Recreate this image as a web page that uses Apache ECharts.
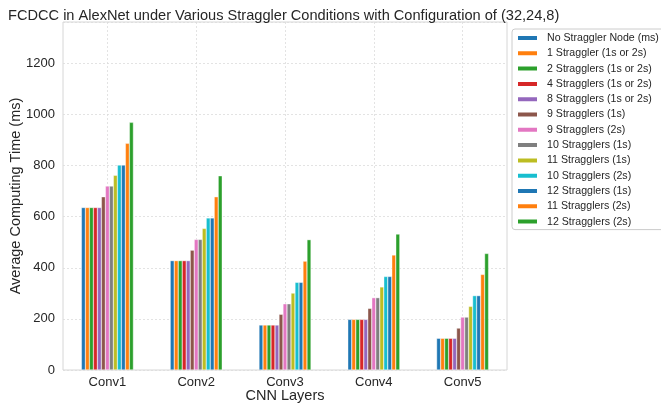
<!DOCTYPE html>
<html>
<head>
<meta charset="utf-8">
<script src="https://cdn.jsdelivr.net/npm/echarts@6/dist/echarts.min.js"></script>
<style>html,body{margin:0;padding:0;background:#fff}#c{width:661px;height:404px}</style>
</head>
<body>
<div id="c"></div>
<script>
const categories = ['Conv1', 'Conv2', 'Conv3', 'Conv4', 'Conv5'];
const seriesNames = [
  'No Straggler Node (ms)', '1 Straggler (1s or 2s)', '2 Stragglers (1s or 2s)',
  '4 Stragglers (1s or 2s)', '8 Stragglers (1s or 2s)', '9 Stragglers (1s)',
  '9 Stragglers (2s)', '10 Stragglers (1s)', '11 Stragglers (1s)',
  '10 Stragglers (2s)', '12 Stragglers (1s)', '11 Stragglers (2s)', '12 Stragglers (2s)'
];
const noStraggler   = [636, 428, 176, 198, 124];
const straggler1    = [636, 428, 176, 198, 124];
const stragglers2   = [636, 428, 176, 198, 124];
const stragglers4   = [636, 428, 176, 198, 124];
const stragglers8   = [636, 428, 176, 198, 124];
const stragglers9s1 = [678, 469, 218, 241, 164];
const stragglers9s2 = [720, 511, 259, 283, 207];
const stragglers10s1 = [720, 511, 259, 283, 207];
const stragglers11s1 = [762, 554, 301, 325, 249];
const stragglers10s2 = [802, 595, 343, 366, 291];
const stragglers12s1 = [802, 595, 343, 366, 291];
const stragglers11s2 = [887, 678, 426, 450, 374];
const stragglers12s2 = [969, 760, 510, 532, 456];
const yTicks = [0, 200, 400, 600, 800, 1000, 1200];

const seriesValues = [noStraggler, straggler1, stragglers2, stragglers4, stragglers8,
  stragglers9s1, stragglers9s2, stragglers10s1, stragglers11s1, stragglers10s2,
  stragglers12s1, stragglers11s2, stragglers12s2];
const colors = ['#1f77b4', '#ff7f0e', '#2ca02c', '#d62728', '#9467bd', '#8c564b',
  '#e377c2', '#7f7f7f', '#bcbd22', '#17becf', '#1f77b4', '#ff7f0e', '#2ca02c'];

const font = 'Liberation Sans, Arial, sans-serif';
const chart = echarts.init(document.getElementById('c'), null, {renderer: 'canvas'});
chart.setOption({
  animation: false,
  color: colors,
  title: {
    text: 'FCDCC in AlexNet under Various Straggler Conditions with Configuration of (32,24,8)',
    left: 3, top: 3,
    textStyle: {fontFamily: font, fontSize: 14.6, fontWeight: 'normal', color: '#262626'}
  },
  grid: {left: 63, right: 154, top: 22, bottom: 34, show: true, borderColor: '#d6d6d6', borderWidth: 1,
    containLabel: false, outerBoundsMode: 'none'},
  legend: {
    orient: 'vertical', left: 512, top: 29,
    itemWidth: 21, itemHeight: 6, itemGap: 3.3,
    padding: [3, 60, 2, 4],
    backgroundColor: '#fff', borderColor: '#cccccc', borderWidth: 1, borderRadius: 3,
    icon: 'rect',
    textStyle: {fontFamily: font, fontSize: 10.6, color: '#262626', lineHeight: 12, height: 12, padding: [0, 0, 0, 4]},
    data: seriesNames
  },
  xAxis: {
    type: 'category', data: categories,
    name: 'CNN Layers', nameLocation: 'middle', nameGap: 18, nameMoveOverlap: false,
    nameTextStyle: {fontFamily: font, fontSize: 14.5, color: '#262626'},
    axisLine: {show: false}, axisTick: {show: false},
    axisLabel: {fontFamily: font, fontSize: 13, color: '#262626', margin: 6},
    splitLine: {show: true, alignWithLabel: true, lineStyle: {color: '#dcdcdc', type: [2, 2], width: 0.8}}
  },
  yAxis: {
    type: 'value', min: 0, max: 1362, interval: 200,
    name: 'Average Computing Time (ms)', nameLocation: 'middle', nameGap: 40, nameMoveOverlap: false,
    nameTextStyle: {fontFamily: font, fontSize: 14.5, color: '#262626'},
    axisLine: {show: false}, axisTick: {show: false},
    axisLabel: {fontFamily: font, fontSize: 13, color: '#262626', margin: 8, showMaxLabel: false,
      formatter: v => (yTicks.indexOf(v) >= 0 ? String(v) : '')},
    splitLine: {show: true, lineStyle: {color: '#dcdcdc', type: [2, 2], width: 0.8}}
  },
  series: seriesNames.map((n, i) => ({
    name: n, type: 'bar', data: seriesValues[i],
    barWidth: 4, barGap: '0%',
    itemStyle: {color: colors[i], borderColor: '#ffffff', borderWidth: 0.4}
  }))
});
</script>
</body>
</html>
